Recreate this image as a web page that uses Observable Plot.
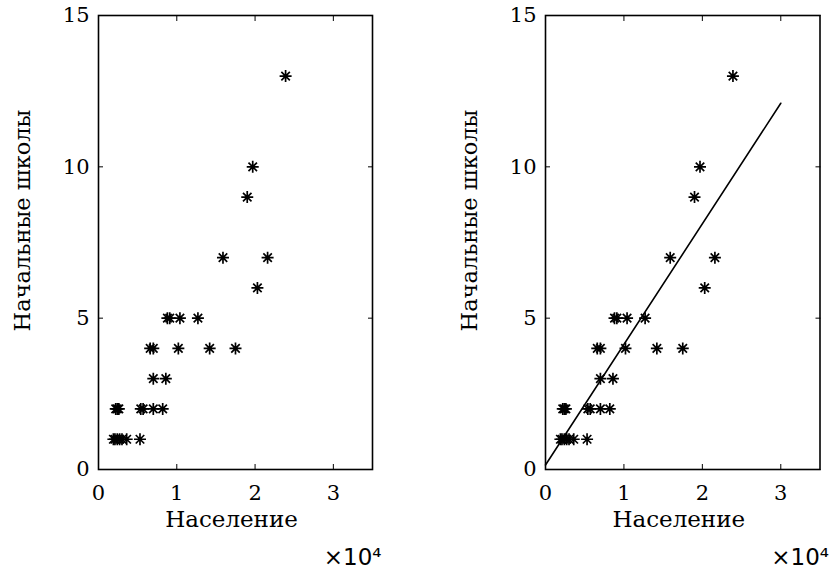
<!DOCTYPE html>
<html>
<head>
<meta charset="utf-8">
<script src="https://cdn.jsdelivr.net/npm/d3@7"></script>
<script src="https://cdn.jsdelivr.net/npm/@observablehq/plot@0.6"></script>
<style>
  html, body { margin: 0; padding: 0; background: white; }
  #wrap { position: relative; width: 829px; height: 572px; overflow: hidden; }
  #wrap > svg, #wrap > figure { position: absolute; top: 0; margin: 0; overflow: visible; }
  #wrap g[aria-label$="tick label"], #wrap g[aria-label$="tick label"] text { font-size: 21px !important; font-family: "DejaVu Serif" !important; }
</style>
</head>
<body>
<div id="wrap"></div>
<script>
// Data: population (people) and number of primary schools
const population = [1900, 2100, 2400, 2700, 3000, 3600, 5300,
                    2200, 2400, 2600, 5400, 5700, 7000, 8200,
                    7000, 8600,
                    6600, 7000, 10200, 14200, 17500,
                    8800, 9100, 10400, 12700,
                    15900, 21600, 20300, 19000, 19700, 23900];
const schools =    [1, 1, 1, 1, 1, 1, 1,
                    2, 2, 2, 2, 2, 2, 2,
                    3, 3,
                    4, 4, 4, 4, 4,
                    5, 5, 5, 5,
                    7, 7, 6, 9, 10, 13];
// Fitted line endpoints
const fitX = [0, 30000];
const fitY = [0.15, 12.1];
const xTicks = [0, 10000, 20000, 30000];
const yTicks = [0, 5, 10, 15];
const xLabel = "Население";
const yLabel = "Начальные школы";
const exponentLabel = "×10⁴";

const points = population.map((p, i) => ({population: p, schools: schools[i]}));
const fit = fitX.map((x, i) => ({population: x, schools: fitY[i]}));

const star = {
  draw(ctx, size) {
    const r = Math.sqrt(size / Math.PI);
    const d = r * Math.SQRT1_2;
    ctx.moveTo(-r, 0); ctx.lineTo(r, 0);
    ctx.moveTo(0, -r); ctx.lineTo(0, r);
    ctx.moveTo(-d, -d); ctx.lineTo(d, d);
    ctx.moveTo(-d, d); ctx.lineTo(d, -d);
  }
};

function panel(width, marginRight, withFit) {
  const marks = [
    Plot.frame({stroke: "black", strokeWidth: 1.6}),
    Plot.axisX({anchor: "bottom", ticks: xTicks, tickSize: -5, tickPadding: 21,
      tickFormat: d => String(d / 10000), label: null}),
    Plot.axisX({anchor: "top", ticks: xTicks, tickSize: -5, tickFormat: () => "", label: null}),
    Plot.axisY({anchor: "left", ticks: yTicks, tickSize: -5, tickPadding: 14, label: null}),
    Plot.axisY({anchor: "right", ticks: yTicks, tickSize: -5, tickFormat: () => "", label: null}),
    Plot.text([xLabel], {text: d => d, frameAnchor: "bottom", textAnchor: "middle", lineAnchor: "middle",
      dx: -4, dy: 50, fontSize: 23, fontFamily: "DejaVu Serif", fill: "black"}),
    Plot.text([yLabel], {text: d => d, frameAnchor: "left", textAnchor: "middle", lineAnchor: "middle",
      rotate: -90, dx: -76, dy: -22, fontSize: 22.5, fontFamily: "DejaVu Serif", fill: "black"}),
  ];
  if (withFit) {
    marks.push(Plot.line(fit, {x: "population", y: "schools", stroke: "black", strokeWidth: 1.6}));
  }
  marks.push(Plot.dot(points, {x: "population", y: "schools", symbol: star, r: 6,
    stroke: "black", fill: "none", strokeWidth: 1.7}));
  marks.push(Plot.text([exponentLabel], {text: d => d, frameAnchor: "bottom-right",
    textAnchor: "end", dx: 9, dy: 95, fontSize: 23, fontFamily: "DejaVu Sans", fill: "black"}));
  return Plot.plot({
    width, height: 572,
    marginLeft: 98, marginRight, marginTop: 15, marginBottom: 103,
    style: {fontFamily: "DejaVu Serif", fontSize: "20px", color: "black", background: "white", overflow: "visible"},
    x: {domain: [0, 35000]},
    y: {domain: [0, 15]},
    marks
  });
}

const wrap = document.getElementById("wrap");
const left = panel(447, 75, false);
left.style.left = "0px";
const right = panel(382, 9.5, true);
right.style.left = "447px";
wrap.appendChild(left);
wrap.appendChild(right);
</script>
</body>
</html>
